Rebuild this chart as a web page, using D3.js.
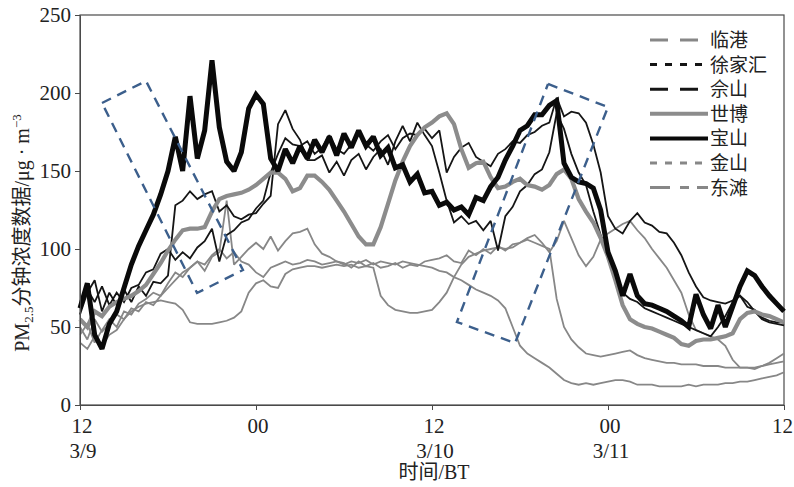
<!DOCTYPE html>
<html><head><meta charset="utf-8">
<script src="https://cdn.jsdelivr.net/npm/d3@7"></script>
<style>body{margin:0;background:#fff}svg{display:block}</style>
</head><body><svg id="c" width="794" height="487"></svg>
<script>
// sample times: hours after 12:00 on 3/9, half-hour steps
const stepHours = 0.5;
const sampleCount = 97;
const hours = d3.range(sampleCount).map(i => i * stepHours);

const linGang = [45,52,40,48,55,50,60,58,65,68,72,70,78,85,82,88,92,86,95,98,131,90,95,100,104,100,108,99,105,110,111,113,103,97,95,92,91,88,92,89,91,88,89,91,88,90,89,92,93,94,96,92,91,99,96,100,97,102,99,103,104,107,109,104,98,105,118,107,96,89,95,106,110,113,116,118,112,107,100,94,88,80,72,58,48,46,44,42,38,29,24,24,23,25,26,27,28];
const xuJiaHui = [58,72,80,60,72,64,74,66,76,70,79,78,83,128,131,137,132,135,137,124,128,121,119,122,123,129,134,180,189,177,170,157,157,160,149,156,147,157,161,151,159,164,154,169,179,169,181,173,166,149,131,117,121,116,118,112,118,99,121,127,137,141,148,151,162,187,177,161,149,141,124,109,95,82,72,68,66,62,60,58,56,54,52,50,48,46,44,50,57,66,70,66,60,55,53,52,51];
const sheShan = [65,74,66,76,64,72,66,75,77,85,87,97,100,93,98,94,101,105,113,92,109,112,117,119,126,131,149,161,171,167,166,169,161,165,173,164,161,167,176,167,163,169,173,164,171,174,173,177,171,176,149,159,165,168,159,156,153,161,164,169,168,173,175,179,181,197,185,188,187,181,167,149,121,113,110,118,123,117,115,111,110,104,96,85,76,69,67,66,65,67,70,63,61,56,54,53,53];
const shiBo = [55,50,60,57,63,66,68,70,73,77,84,91,99,106,112,113,113,114,124,132,134,135,136,138,141,145,149,149,145,137,139,147,147,143,138,131,124,116,108,103,103,114,129,144,156,166,173,178,181,185,187,180,164,152,155,156,146,139,140,143,145,141,140,138,141,148,151,145,132,124,117,107,95,80,64,55,52,50,49,47,45,43,39,38,41,42,42,43,44,46,55,59,60,58,57,55,53];
const baoShan = [62,78,45,36,52,60,75,90,102,112,122,135,150,172,150,198,158,176,221,178,156,150,162,190,199,193,158,150,164,155,166,158,170,162,172,160,174,165,176,166,172,160,165,152,154,143,148,136,137,128,130,125,127,122,133,131,140,146,157,166,176,179,186,186,192,195,155,146,143,142,139,125,98,86,70,84,70,65,64,62,60,57,54,50,71,58,49,64,50,63,76,86,83,76,70,65,60];
const jinShan = [50,42,55,47,52,58,55,62,60,66,64,70,75,80,85,88,92,90,96,100,94,98,92,90,85,82,88,90,92,90,91,93,92,90,91,92,90,92,91,93,90,92,91,90,92,91,90,89,88,86,85,82,80,77,74,72,70,67,62,50,38,33,30,27,24,20,16,14,13,14,13,14,15,16,16,15,13,13,13,12,12,12,12,13,12,13,13,13,14,14,15,15,16,17,18,19,21];
const dongTan = [40,36,44,38,45,48,55,60,63,65,66,67,66,65,61,53,52,52,52,53,54,56,60,72,78,80,76,75,84,87,88,89,89,88,89,90,89,90,88,89,88,70,64,61,60,59,59,60,61,66,72,82,90,95,97,99,100,101,100,101,104,106,104,102,100,68,50,42,37,33,32,31,32,33,34,35,32,30,29,28,27,27,26,26,26,25,25,25,24,24,24,24,24,25,27,30,33];

const seriesNames = ["临港","徐家汇","佘山","世博","宝山","金山","东滩"];
const seriesValues = [linGang, xuJiaHui, sheShan, shiBo, baoShan, jinShan, dongTan];

// axis ticks
const yTicks = [0,50,100,150,200,250];
const xTicks = [0,12,24,36,48];
const xTickTime = ["12","00","12","00","12"];
const xTickDate = ["3/9","","3/10","3/11",""];

// annotation boxes (hours, value) corners
const boxLeft = [[1.5,193.6],[4.5,207.7],[11.11,86.5],[7.98,71.8]];
const boxRight = [[31.91,205.8],[36.0,191.0],[29.66,39.7],[25.70,53.2]];

const styles = [
  {color:"#878787", w:1.8, legendW:3, dash:"18,12"},
  {color:"#151515", w:1.8, legendW:3, dash:"7,8"},
  {color:"#151515", w:1.8, legendW:3, dash:"18,12"},
  {color:"#8c8c8c", w:4.2, legendW:4, dash:null},
  {color:"#0a0a0a", w:5,   legendW:4, dash:null},
  {color:"#878787", w:1.8, legendW:3, dash:"7,8"},
  {color:"#878787", w:1.8, legendW:3, dash:"20,10,9,8,11,0"}
];

const svg = d3.select("#c");
const serif = "'Liberation Serif','Noto Sans CJK SC',serif";
const x = d3.scaleLinear().domain([0,48]).range([80,784]);
const y = d3.scaleLinear().domain([0,250]).range([405,15]);

// frame
svg.append("rect").attr("x",80).attr("y",15).attr("width",704).attr("height",390)
  .attr("fill","none").attr("stroke","#4a4a4a").attr("stroke-width",1.2);

// series
const line = d3.line().x((d,i)=>x(hours[i])).y(d=>y(d));
const drawOrder = [0,5,6,1,2,3,4];
drawOrder.forEach(k=>{
  svg.append("path").datum(seriesValues[k]).attr("d",line)
    .attr("fill","none").attr("stroke",styles[k].color)
    .attr("stroke-width",styles[k].w).attr("stroke-linejoin","miter").attr("stroke-miterlimit",2);
});

// boxes
[boxLeft, boxRight].forEach(b=>{
  svg.append("path").attr("d", d3.line().x(d=>x(d[0])).y(d=>y(d[1]))(b.concat([b[0]])))
    .attr("fill","none").attr("stroke","#3c5f8c").attr("stroke-width",2.4)
    .attr("stroke-dasharray","10,7");
});

// axes
const ya = svg.append("g").attr("transform","translate(80,0)")
  .call(d3.axisLeft(y).tickValues(yTicks).tickSize(5).tickPadding(4).tickSizeOuter(0));
ya.select(".domain").attr("stroke","#4a4a4a");
ya.selectAll("line").attr("stroke","#4a4a4a");
ya.selectAll("text").attr("font-family",serif).attr("font-size",21).attr("fill","#222");

const xa = svg.append("g").attr("transform","translate(0,405)")
  .call(d3.axisBottom(x).tickValues(xTicks).tickSize(5).tickSizeOuter(0).tickFormat(""));
xa.select(".domain").attr("stroke","#4a4a4a");
xa.selectAll("line").attr("stroke","#4a4a4a");
xTicks.forEach((t,i)=>{
  const last = i === xTicks.length - 1;
  svg.append("text").attr("x", last ? 793 : x(t)+2).attr("y",433)
    .attr("text-anchor", last ? "end" : "middle")
    .attr("font-family",serif).attr("font-size",21).attr("fill","#222").text(xTickTime[i]);
  if (xTickDate[i]) svg.append("text").attr("x",x(t)+3).attr("y",458).attr("text-anchor","middle")
    .attr("font-family",serif).attr("font-size",21).attr("fill","#222").text(xTickDate[i]);
});

svg.append("text").attr("x",434).attr("y",479).attr("text-anchor","middle")
  .attr("font-family",serif).attr("font-size",20).attr("fill","#222").text("时间/BT");

// y title
const yt = svg.append("text").attr("transform","translate(29,233) rotate(-90)")
  .attr("text-anchor","middle").attr("font-family",serif).attr("font-size",20).attr("fill","#222");
yt.append("tspan").text("PM");
yt.append("tspan").attr("font-size",13).attr("dy",4).text("2.5");
yt.append("tspan").attr("dy",-4).text("分钟浓度数据/μg · m");
yt.append("tspan").attr("font-size",13).attr("dy",-8).text("−3");

// legend
seriesNames.forEach((n,k)=>{
  const ly = 40 + k*24.6;
  svg.append("line").attr("x1",650).attr("x2",708).attr("y1",ly).attr("y2",ly)
    .attr("stroke",styles[k].color).attr("stroke-width",styles[k].legendW)
    .attr("stroke-dasharray",styles[k].dash);
  svg.append("text").attr("x",710).attr("y",ly+7).attr("font-family",serif)
    .attr("font-size",19).attr("fill","#222").text(n);
});
</script></body></html>
